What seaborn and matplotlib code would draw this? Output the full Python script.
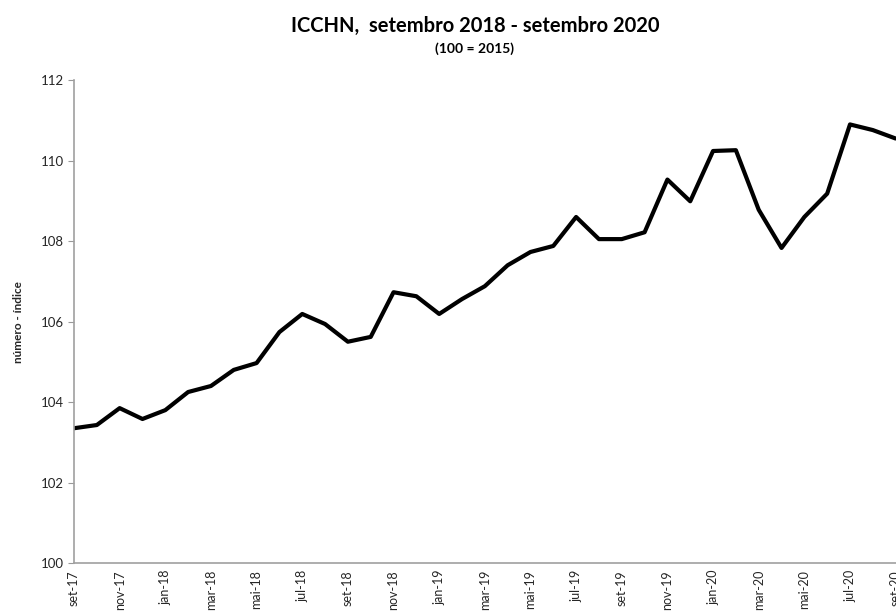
import pandas as pd
import matplotlib
matplotlib.use("Agg")
import matplotlib.pyplot as plt
import seaborn as sns

meses = ["set-17", "out-17", "nov-17", "dez-17", "jan-18", "fev-18", "mar-18", "abr-18",
         "mai-18", "jun-18", "jul-18", "ago-18", "set-18", "out-18", "nov-18", "dez-18",
         "jan-19", "fev-19", "mar-19", "abr-19", "mai-19", "jun-19", "jul-19", "ago-19",
         "set-19", "out-19", "nov-19", "dez-19", "jan-20", "fev-20", "mar-20", "abr-20",
         "mai-20", "jun-20", "jul-20", "ago-20", "set-20"]
icchn = [103.35, 103.43, 103.85, 103.58, 103.80, 104.25, 104.40, 104.80,
         104.97, 105.74, 106.19, 105.94, 105.50, 105.62, 106.73, 106.63,
         106.19, 106.56, 106.88, 107.40, 107.73, 107.88, 108.60, 108.05,
         108.05, 108.22, 109.53, 108.99, 110.24, 110.26, 108.78, 107.83,
         108.60, 109.18, 110.90, 110.76, 110.55]

df = pd.DataFrame({"pos": range(len(meses)), "mes": meses, "valor": icchn})

sns.set_style("white")
plt.rcParams["font.family"] = ["Lato", "DejaVu Sans"]

fig = plt.figure(figsize=(8.96, 6.12), dpi=100)
ax = fig.add_axes([0.0826, 0.08, 0.917, 0.789])

sns.lineplot(data=df, x="pos", y="valor", color="black", linewidth=3, ax=ax)

ax.set_xlim(0, len(meses) - 1)
ax.set_ylim(100, 112)
ax.set_yticks(range(100, 113, 2))
ax.set_xticks(df["pos"][::2])
ax.set_xticklabels(df["mes"][::2], rotation=90, fontsize=9, va="top")
ax.tick_params(axis="y", labelsize=9.5, length=4, color="#999999", direction="out", left=True)
ax.tick_params(axis="x", length=0, pad=5)
ax.set_xlabel("")
ax.set_ylabel("número - índice", fontsize=8.5, fontweight="bold", labelpad=12)

for s in ["top", "right"]:
    ax.spines[s].set_visible(False)
for s in ["left", "bottom"]:
    ax.spines[s].set_color("#a0a0a0")
    ax.spines[s].set_linewidth(1.2)

fig.text(0.53, 0.957, "ICCHN,  setembro 2018 - setembro 2020", ha="center", va="center",
         fontsize=14.5, fontweight="bold", color="black")
fig.text(0.53, 0.92, "(100 = 2015)", ha="center", va="center", fontsize=10,
         fontweight="bold", color="black")

fig.savefig("out.png", dpi=100)
